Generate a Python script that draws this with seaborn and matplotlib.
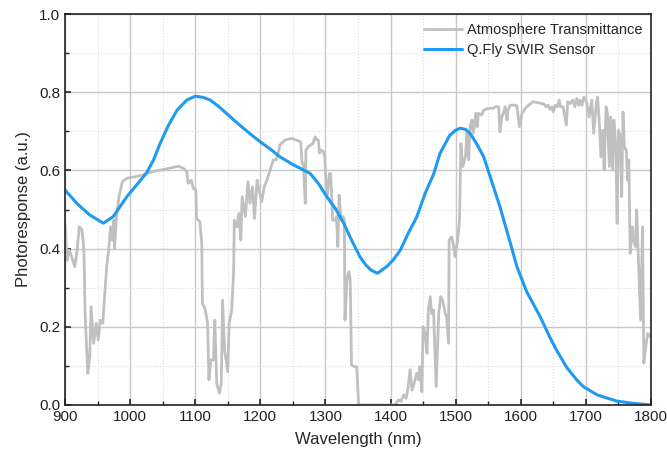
import numpy as np
import pandas as pd
import seaborn as sns
from matplotlib import pyplot as plt
from matplotlib.ticker import MultipleLocator

# Q.Fly SWIR sensor photoresponse
sensor_wl = [900, 918, 938, 959, 974, 995, 1010, 1025, 1036, 1046, 1059, 1072, 1087,
             1100, 1112, 1123, 1135, 1148, 1160, 1174, 1187, 1200, 1215, 1230, 1251,
             1276, 1289, 1302, 1315, 1328, 1340, 1353, 1362, 1370, 1380, 1394, 1404,
             1415, 1427, 1440, 1453, 1466, 1476, 1491, 1500, 1507, 1515, 1522, 1532,
             1543, 1553, 1568, 1584, 1594, 1609, 1630, 1645, 1655, 1671, 1686, 1696,
             1717, 1747, 1773, 1800]
sensor_val = [0.55, 0.516, 0.486, 0.465, 0.482, 0.533, 0.563, 0.593, 0.627, 0.669,
              0.716, 0.754, 0.78, 0.79, 0.787, 0.78, 0.765, 0.746, 0.728, 0.708, 0.69,
              0.673, 0.655, 0.635, 0.614, 0.593, 0.567, 0.533, 0.503, 0.465, 0.422,
              0.379, 0.358, 0.345, 0.337, 0.354, 0.371, 0.396, 0.439, 0.48, 0.541, 0.59,
              0.644, 0.69, 0.703, 0.708, 0.705, 0.695, 0.669, 0.635, 0.584, 0.507,
              0.414, 0.354, 0.29, 0.225, 0.172, 0.14, 0.095, 0.064, 0.047, 0.026,
              0.01, 0.004, 0.0]

# atmosphere transmittance
atm_wl = [900, 903, 906, 910, 915, 918, 922, 926, 929, 931, 935, 938, 940, 944, 948,
          951, 954, 958, 960, 964, 967, 970, 972, 975, 976, 979, 983, 988, 995, 1008,
          1018, 1034, 1059, 1074, 1082, 1087, 1089, 1094, 1097, 1101, 1102, 1107, 1110,
          1111, 1115, 1119, 1121, 1124, 1128, 1130, 1133, 1137, 1140, 1142, 1145, 1150,
          1152, 1156, 1159, 1160, 1164, 1167, 1170, 1172, 1177, 1181, 1184, 1188, 1191,
          1195, 1198, 1202, 1206, 1210, 1215, 1220, 1224, 1228, 1230, 1235, 1238, 1248,
          1258, 1262, 1264, 1266, 1269, 1270, 1274, 1277, 1281, 1284, 1287, 1289, 1291,
          1293, 1297, 1299, 1301, 1303, 1306, 1308, 1311, 1315, 1317, 1319, 1321, 1324,
          1327, 1329, 1330, 1333, 1336, 1338, 1340, 1344, 1348, 1351, 1407, 1412, 1416,
          1420, 1424, 1427, 1430, 1433, 1437, 1440, 1443, 1445, 1448, 1450, 1453, 1456,
          1458, 1461, 1463, 1466, 1470, 1474, 1477, 1480, 1484, 1486, 1489, 1490, 1494,
          1497, 1499, 1503, 1506, 1508, 1511, 1515, 1517, 1520, 1522, 1525, 1527, 1531,
          1533, 1535, 1540, 1543, 1550, 1558, 1561, 1566, 1568, 1571, 1573, 1576, 1579,
          1580, 1584, 1591, 1594, 1598, 1602, 1607, 1612, 1619, 1627, 1635, 1639, 1642,
          1645, 1648, 1650, 1653, 1656, 1659, 1661, 1665, 1670, 1672, 1676, 1680, 1683,
          1686, 1689, 1691, 1694, 1697, 1701, 1705, 1709, 1712, 1716, 1718, 1721, 1723,
          1726, 1728, 1731, 1733, 1736, 1738, 1741, 1743, 1746, 1748, 1750, 1753, 1755,
          1757, 1759, 1762, 1764, 1766, 1768, 1771, 1773, 1776, 1778, 1781, 1784, 1787,
          1789, 1792, 1795, 1798, 1800]
atm_val = [0.465, 0.37, 0.396, 0.38, 0.354, 0.388, 0.456, 0.448, 0.396, 0.226, 0.081,
           0.124, 0.251, 0.158, 0.209, 0.166, 0.217, 0.209, 0.26, 0.354, 0.396, 0.456,
           0.422, 0.473, 0.40, 0.482, 0.533, 0.571, 0.58, 0.584, 0.588, 0.597, 0.605,
           0.611, 0.605, 0.597, 0.567, 0.575, 0.554, 0.55, 0.477, 0.469, 0.414, 0.26,
           0.247, 0.209, 0.064, 0.115, 0.115, 0.217, 0.055, 0.03, 0.055, 0.268, 0.141,
           0.085, 0.209, 0.243, 0.345, 0.473, 0.456, 0.49, 0.422, 0.533, 0.482, 0.571,
           0.516, 0.558, 0.477, 0.575, 0.55, 0.52, 0.558, 0.575, 0.601, 0.627, 0.627,
           0.648, 0.665, 0.673, 0.678, 0.682, 0.676, 0.673, 0.618, 0.618, 0.516, 0.652,
           0.661, 0.665, 0.669, 0.686, 0.678, 0.678, 0.644, 0.652, 0.648, 0.635, 0.558,
           0.537, 0.592, 0.592, 0.473, 0.473, 0.482, 0.405, 0.537, 0.473, 0.482, 0.473,
           0.217, 0.32, 0.341, 0.32, 0.102, 0.098, 0.098, 0.0, 0.0, 0.013, 0.009, 0.026,
           0.017, 0.047, 0.09, 0.038, 0.06, 0.081, 0.064, 0.098, 0.034, 0.20, 0.183,
           0.132, 0.243, 0.277, 0.234, 0.243, 0.047, 0.234, 0.277, 0.268, 0.234, 0.226,
           0.158, 0.422, 0.43, 0.405, 0.379, 0.422, 0.473, 0.669, 0.61, 0.635, 0.695,
           0.627, 0.712, 0.729, 0.695, 0.746, 0.712, 0.746, 0.742, 0.754, 0.759, 0.759,
           0.763, 0.763, 0.699, 0.737, 0.746, 0.763, 0.729, 0.754, 0.767, 0.767, 0.765,
           0.712, 0.746, 0.759, 0.767, 0.776, 0.773, 0.77, 0.763, 0.767, 0.756, 0.763,
           0.75, 0.767, 0.763, 0.78, 0.763, 0.763, 0.716, 0.776, 0.771, 0.78, 0.763,
           0.784, 0.767, 0.78, 0.767, 0.788, 0.776, 0.737, 0.78, 0.695, 0.771, 0.788,
           0.712, 0.635, 0.703, 0.601, 0.763, 0.746, 0.61, 0.737, 0.601, 0.729, 0.661,
           0.465, 0.703, 0.686, 0.533, 0.75, 0.661, 0.652, 0.575, 0.627, 0.388, 0.456,
           0.422, 0.405, 0.499, 0.354, 0.217, 0.456, 0.107, 0.149, 0.183, 0.175, 0.18]

sns.set_style("white")
plt.rcParams['font.family'] = ['Liberation Sans', 'DejaVu Sans']

fig = plt.figure(figsize=(6.67, 4.55), dpi=100)
ax = fig.add_axes([0.0975, 0.11, 0.8785, 0.859])

sns.lineplot(x=atm_wl, y=atm_val, ax=ax, color="#c0c0c0", linewidth=2,
             estimator=None, label="Atmosphere Transmittance")
sns.lineplot(x=sensor_wl, y=sensor_val, ax=ax, color="#1e9bf0", linewidth=2.2,
             estimator=None, label="Q.Fly SWIR Sensor",
             solid_joinstyle='round', solid_capstyle='round')

ax.set_xlim(900, 1800)
ax.set_ylim(0, 1.0)
ax.xaxis.set_major_locator(MultipleLocator(100))
ax.xaxis.set_minor_locator(MultipleLocator(50))
ax.yaxis.set_major_locator(MultipleLocator(0.2))
ax.yaxis.set_minor_locator(MultipleLocator(0.1))
ax.yaxis.set_major_formatter(plt.FormatStrFormatter('%.1f'))

ax.grid(which='major', color='#c8c8c8', linewidth=1, linestyle='-')
ax.grid(which='minor', color='#dcdcdc', linewidth=0.8, linestyle=':')
ax.set_axisbelow(True)

ax.tick_params(which='both', direction='in', bottom=True, left=True, top=False, right=False,
               labelsize=11, colors='#222222')
ax.tick_params(which='major', length=4, width=1.2)
ax.tick_params(which='minor', length=3, width=1)
for sp in ax.spines.values():
    sp.set_color('#222222')
    sp.set_linewidth(1.2)

ax.set_xlabel("Wavelength (nm)", fontsize=12, labelpad=6)
ax.set_ylabel("Photoresponse (a.u.)", fontsize=12, labelpad=6)

leg = ax.legend(loc='upper right', frameon=False, fontsize=10.5, handlelength=2.6,
                borderaxespad=0.2, labelspacing=0.45, handletextpad=0.3)

fig.savefig("out.png", dpi=100)
